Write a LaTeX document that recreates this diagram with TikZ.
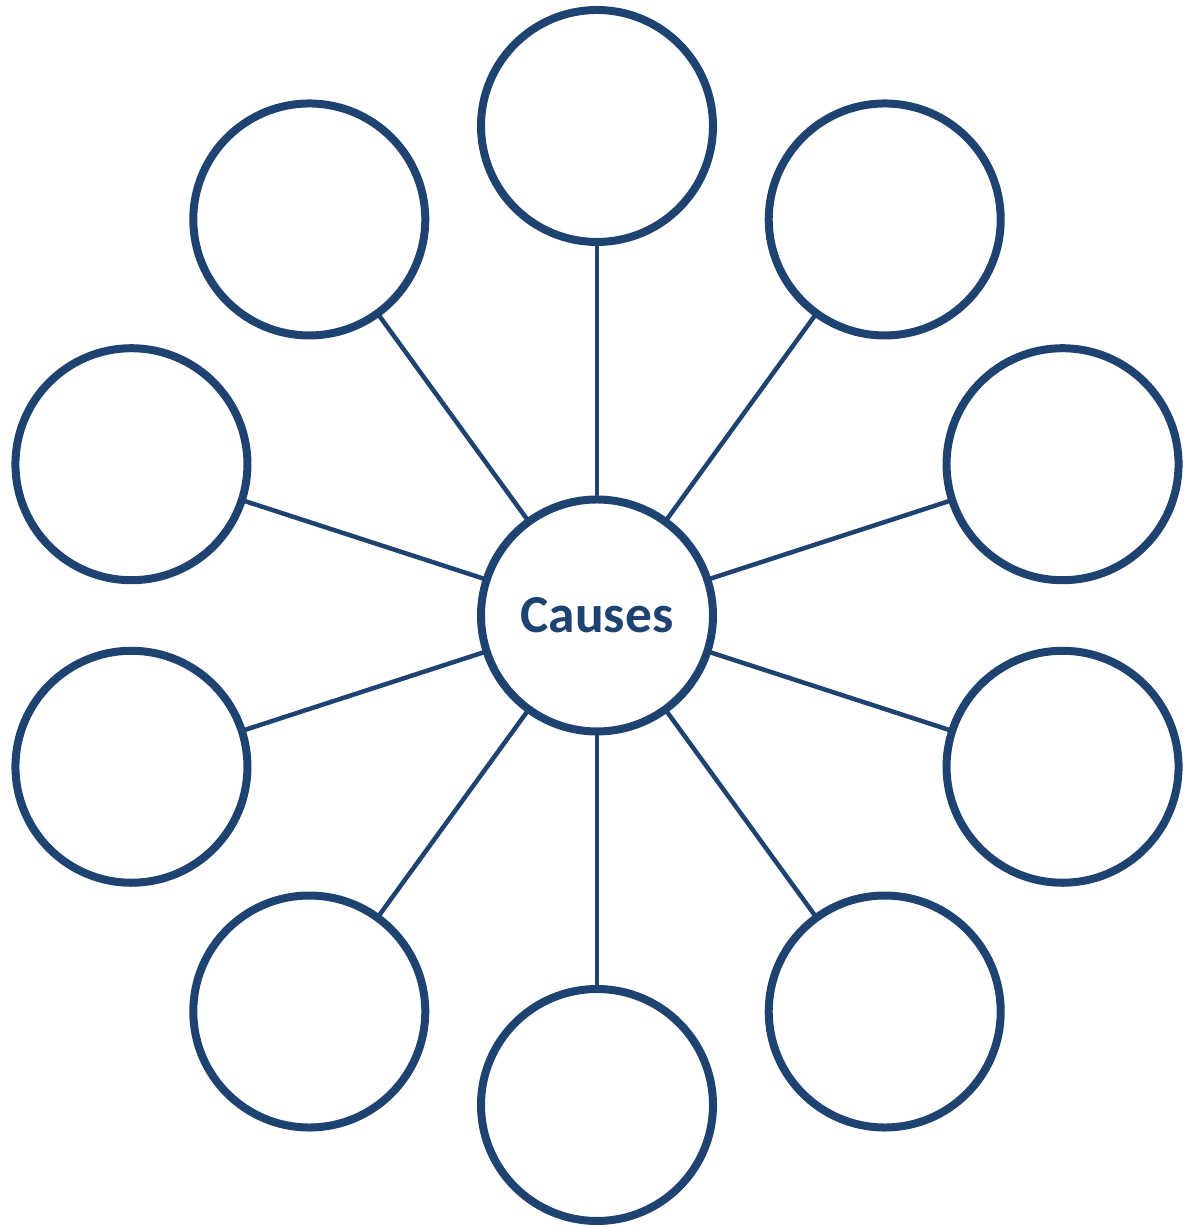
\documentclass[tikz,border=0pt]{standalone}
\usepackage{fontspec}
\setmainfont{Carlito}
\usepackage{xcolor}
\usetikzlibrary{calc}
\definecolor{causeblue}{HTML}{1F4371}

\begin{document}
\begin{tikzpicture}[
    bubble/.style={
        circle,
        draw=causeblue,
        line width=0.08cm,
        fill=white,
        minimum size=2.32cm,
        inner sep=0pt,
        outer sep=0pt
    },
    spoke/.style={
        draw=causeblue,
        line width=0.045cm
    }
]

% fixed page size
\useasboundingbox (0,0) rectangle (11.84,12.27);

% Centre: causes
\node[
    bubble,
    font=\fontsize{15.2}{18}\selectfont\bfseries,
    text=causeblue
] (hub) at (5.97,6.115) {
    Causes
};

% Ring of ten empty circles
\foreach \i in {0,...,9} {
    \node[
        bubble
    ] (c\i) at ($(hub)+(90-36*\i:4.895)$) {};
}

% Spokes
\foreach \i in {0,...,9} {
    \draw[
        spoke
    ] (hub) -- (c\i);
}

\end{tikzpicture}
\end{document}
